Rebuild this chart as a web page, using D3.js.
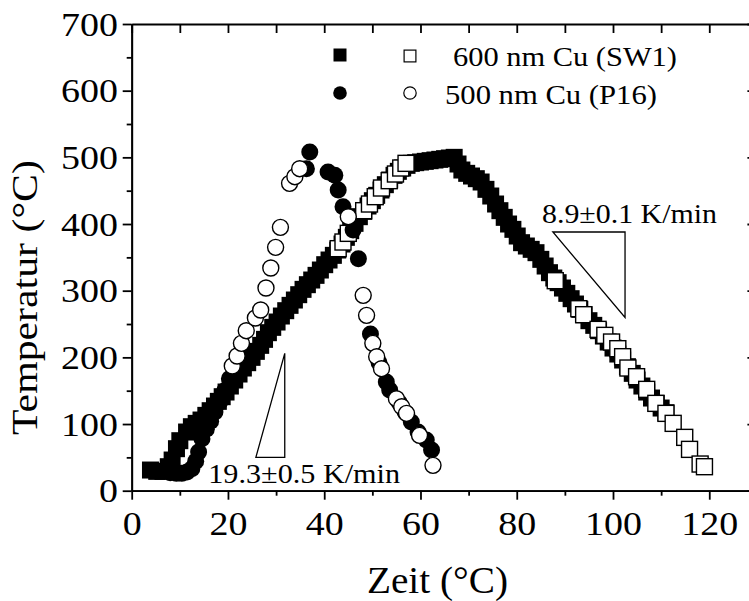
<!DOCTYPE html>
<html>
<head>
<meta charset="utf-8">
<script src="https://d3js.org/d3.v7.min.js"></script>
<style>
  body { margin: 0; background: #fff; }
  svg { display: block; }
  .axis path, .axis line { stroke: #000; stroke-width: 1.8; }
</style>
</head>
<body>
<svg width="749" height="601"></svg>
<script>
// 600 nm Cu (SW1), filled squares
var sqFilledX = [3.9,5.2,6.5,7.6,8.4,9.3,10,11.4,12.4,13.4,14.4,15.4,16.3,17.2,18,18.8,19.6,20.5,21.4,22.3,23.2,24.1,25,25.9,26.8,27.6,28.4,29.3,30.2,31.1,32,32.9,33.8,34.7,35.6,36.5,37.4,38.3,39.2,40.1,41,41.9,42.8,43.7,44.6,45.5,46.4,47.3,48.2,49.1,50,50.9,51.8,52.7,53.6,54.5,55.4,56.3,57.2,58.1,59,60,61,62,63,64,65,66,67,
  67.8,68.6,69.6,70.6,71.6,72.6,73.6,74.6,75.6,76.5,77.4,78.3,79.2,80.1,81,82,83,84,85,85.9,86.8,87.7,88.6,89.5,90.4,91.3,92.2,93.1,94,95,96,97,98,99,100,101,102,103,104,105,106,107,108,109,110,111];
var sqFilledY = [31,29,29,36,46,63,75,88,96,101,106,113,120,127,134,141,148,157,166,175,184,192,200,209,218,227,237,245,253,262,270,278,286,294,302,309,316,323,331,339,346,353,361,370,380,390,401,411,419,427,435,443,451,459,466,473,479,484,488,491,492,493,494,495,496,497,498,499,500,
  490,481,476,472,468,463,452,442,430,420,410,400,392,382,372,367,362,357,347,337,327,319,312,304,296,288,280,272,264,255,248,240,232,223,214,205,196,186,176,166,157,148,139,131,124,117];
// 600 nm Cu (SW1), open squares
var sqOpenX = [42.9,43.9,45,48.2,49.4,50.6,51.9,53.5,54.8,55.9,57,88,92.9,93.9,96.9,98.3,99.7,101,102,103.1,104.9,107,108.9,111,112.5,114.9,115.9,118.1,119];
var sqOpenY = [363,373,386,420,430,441,454,465,475,484,491,315,273,264,242,233,223,213,201,184,171,152,131,116,101,80,62,40,36];
// 500 nm Cu (P16), filled circles
var ciFilledX = [8,9.3,10.4,11.5,12.5,13.3,13.9,14.6,15.5,16.4,17.3,18.3,19.3,20.3,36.3,37,40.8,42.2,42.9,43.9,46,47.1,49.6,51.4,52.9,53.6,55.6,56.8,58.1,59.5,61.2,62.3];
var ciFilledY = [27,26,26,28,33,44,58,78,92,104,118,133,150,168,483,508,478,473,451,426,391,348,235,192,163,151,132,118,103,88,76,61];
// 500 nm Cu (P16), open circles
var ciOpenX = [20.9,21.9,22.8,23.8,25.7,26.8,27.9,28.9,29.9,30.9,32.8,33.9,34.9,45,48.1,48.8,50.1,50.9,51.9,55,56.1,57.1,59.8,62.6];
var ciOpenY = [187,202,221,240,259,271,304,334,365,395,461,471,483,411,293,263,221,201,183,138,126,116,83,38];

var xTicks = [0,20,40,60,80,100,120];
var xMinor = [10,30,50,70,90,110,130];
var yTicks = [0,100,200,300,400,500,600,700];
var yMinor = [50,150,250,350,450,550,650];
var legendLabels = ["600 nm Cu (SW1)", "500 nm Cu (P16)"];
var slopeLabels = ["19.3\u00b10.5 K/min", "8.9\u00b10.1 K/min"];
// slope triangles in data units
var triHeat = [[25.8,50],[31.8,50],[31.8,206]];
var triCool = [[87.5,388],[102.5,388],[102.5,260]];

var font = "'Liberation Serif', serif";
var stretch = 1.1;

var svg = d3.select("svg");
var x = d3.scaleLinear().domain([0,130]).range([131.7,757.4]),
    y = d3.scaleLinear().domain([0,700]).range([490.7,24]);

function zip(a, b) { return a.map(function(v, i) { return [v, b[i]]; }); }

// text squeezed/stretched to a given width, left end at (px, py)
function label(str, px, py, size, width, rot) {
  var t = svg.append("text")
      .style("font-family", font).style("font-size", size + "px")
      .text(str);
  var k = width / t.node().getComputedTextLength();
  t.attr("transform", "translate(" + px + "," + py + ")" + (rot ? " rotate(" + rot + ")" : "") + " scale(" + k + ",1)");
  return t;
}

// axes
svg.append("g").attr("class", "axis")
    .attr("transform", "translate(0," + y(0) + ")")
    .call(d3.axisBottom(x).tickValues(xTicks).tickSize(9).tickSizeOuter(0).tickPadding(11));
svg.append("g").attr("class", "axis")
    .attr("transform", "translate(0," + y(0) + ")")
    .call(d3.axisBottom(x).tickValues(xMinor).tickSize(5).tickFormat("").tickSizeOuter(0));
svg.append("g").attr("class", "axis")
    .attr("transform", "translate(" + x(0) + ",0)")
    .call(d3.axisLeft(y).tickValues(yTicks).tickSize(9).tickSizeOuter(0).tickPadding(3.5));
svg.append("g").attr("class", "axis")
    .attr("transform", "translate(" + x(0) + ",0)")
    .call(d3.axisLeft(y).tickValues(yMinor).tickSize(5).tickFormat("").tickSizeOuter(0));
// top axis, ticks inward
svg.append("g").attr("class", "axis")
    .attr("transform", "translate(0," + y(700) + ")")
    .call(d3.axisTop(x).tickValues(xTicks.concat(xMinor)).tickSize(-9).tickFormat("").tickSizeOuter(0));
// right axis (mostly off the page), ticks inward
svg.append("g").attr("class", "axis")
    .attr("transform", "translate(" + x(130) + ",0)")
    .call(d3.axisRight(y).tickValues(yTicks).tickSize(-10).tickFormat("").tickSizeOuter(0));

svg.selectAll(".axis text")
    .style("font-family", font)
    .style("font-size", "34.5px")
    .attr("fill", "#000")
    .attr("transform", "scale(" + stretch + ",1)");

// axis titles
label("Zeit (\u00b0C)", 367, 593, 37, 141);
label("Temperatur (\u00b0C)", 37, 435, 36, 275, -90);

// data
var fs = 17, os = 16;
svg.append("g").selectAll("rect")
    .data(zip(sqFilledX, sqFilledY)).enter().append("rect")
    .attr("x", function(d) { return x(d[0]) - fs / 2; })
    .attr("y", function(d) { return y(d[1]) - fs / 2; })
    .attr("width", fs).attr("height", fs)
    .attr("fill", "#000");
svg.append("g").selectAll("rect")
    .data(zip(sqOpenX, sqOpenY)).enter().append("rect")
    .attr("x", function(d) { return x(d[0]) - os / 2; })
    .attr("y", function(d) { return y(d[1]) - os / 2; })
    .attr("width", os).attr("height", os)
    .attr("fill", "#fff").attr("stroke", "#000").attr("stroke-width", 1.4);
svg.append("g").selectAll("circle")
    .data(zip(ciFilledX, ciFilledY)).enter().append("circle")
    .attr("cx", function(d) { return x(d[0]); })
    .attr("cy", function(d) { return y(d[1]); })
    .attr("r", 8.5).attr("fill", "#000");
svg.append("g").selectAll("circle")
    .data(zip(ciOpenX, ciOpenY)).enter().append("circle")
    .attr("cx", function(d) { return x(d[0]); })
    .attr("cy", function(d) { return y(d[1]); })
    .attr("r", 8).attr("fill", "#fff").attr("stroke", "#000").attr("stroke-width", 1.4);

// slope triangles
var tri = d3.line().x(function(d) { return x(d[0]); }).y(function(d) { return y(d[1]); }).curve(d3.curveLinearClosed);
[triHeat, triCool].forEach(function(t) {
  svg.append("path").attr("d", tri(t))
    .attr("fill", "none").attr("stroke", "#000").attr("stroke-width", 1.3);
});
label(slopeLabels[0], x(15.9), y(11.5), 28, 192);
label(slopeLabels[1], x(85.25), y(401.5), 28, 175);

// legend
var leg = svg.append("g");
var ls = 13;
leg.append("rect").attr("x", 340 - ls / 2).attr("y", 55 - ls / 2).attr("width", ls).attr("height", ls).attr("fill", "#000");
leg.append("rect").attr("x", 410 - ls / 2 + 0.6).attr("y", 56 - ls / 2 + 0.6).attr("width", ls - 1.2).attr("height", ls - 1.2)
    .attr("fill", "#fff").attr("stroke", "#000").attr("stroke-width", 1.2);
leg.append("circle").attr("cx", 340).attr("cy", 93).attr("r", 6.8).attr("fill", "#000");
leg.append("circle").attr("cx", 410).attr("cy", 93).attr("r", 6.2)
    .attr("fill", "#fff").attr("stroke", "#000").attr("stroke-width", 1.2);
label(legendLabels[0], 453, 65.5, 28, 224);
label(legendLabels[1], 445, 103.5, 28, 212);
</script>
</body>
</html>
